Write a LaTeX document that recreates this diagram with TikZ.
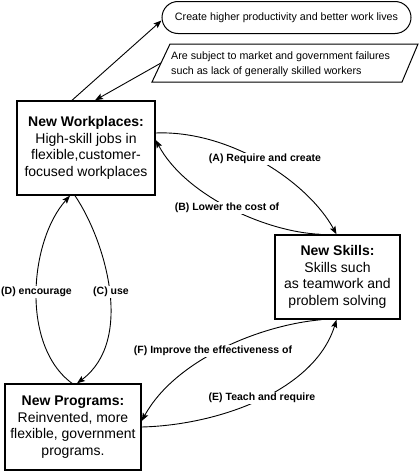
\documentclass[tikz,border=0pt]{standalone}
\usepackage{fontspec}
\setmainfont{Liberation Sans}
\usetikzlibrary{arrows.meta}
\begin{document}
\begin{tikzpicture}[x=1pt,y=-1pt,
  box/.style={draw, line width=1.4pt, align=center, inner sep=0pt,
    font=\fontsize{14}{16.5}\selectfont},
  conn/.style={line width=0.9pt, -{Stealth[length=8pt,width=6pt,inset=1.5pt]}},
  lab/.style={fill=white, inner sep=1pt, font=\bfseries\fontsize{10.5}{12}\selectfont},
  small/.style={font=\fontsize{10.7}{15}\selectfont}
]
\useasboundingbox (0,0) rectangle (419,471);

% nodes
\node[draw, line width=1pt, rounded corners=16pt, minimum width=249pt,
      minimum height=32pt, small] (prod) at (286.5,17.5)
      {Create higher productivity and better work lives};
\draw[line width=1pt] (170,44) -- (418,44) -- (402,82) -- (152,82) -- cycle;
\node[small, align=left, anchor=west, inner sep=0pt] (fail) at (171,64.5)
      {Are subject to market and government failures\\such as lack of generally skilled workers};
\coordinate (failL) at (161,63);

\node[box, minimum width=138pt, minimum height=94pt] (wp) at (86,148)
  {\textbf{New Workplaces:}\\High-skill jobs in\\flexible,customer-\\focused workplaces};
\node[box, minimum width=125pt, minimum height=84pt] (sk) at (337.5,277)
  {\textbf{New Skills:}\\Skills such\\as teamwork and\\problem solving};
\node[box, minimum width=136pt, minimum height=86pt] (pr) at (73,427)
  {\textbf{New Programs:}\\Reinvented, more\\flexible, government\\programs.};

% connectors
\draw[conn] ([xshift=-14pt]wp.north) -- ([yshift=-3pt]prod.west);
\draw[conn] (failL) -- ([xshift=9pt]wp.north);

\draw[conn] ([yshift=15pt]wp.east) .. controls (230,130) and (308,182) .. ([xshift=-1pt]sk.north);
\draw[conn] ([xshift=-17pt]sk.north) .. controls (265,232) and (185,195) .. ([yshift=8pt]wp.east);

\draw[conn] ([xshift=-11pt]wp.south) .. controls (105,240) and (135,340) .. ([xshift=4pt]pr.north);
\draw[conn] ([xshift=-1pt]pr.north) .. controls (20,345) and (30,240) .. ([xshift=-16pt]wp.south);

\draw[conn] (pr.east) .. controls (220,425) and (315,390) .. ([xshift=-1pt]sk.south);
\draw[conn] ([xshift=-16pt]sk.south) .. controls (260,325) and (175,360) .. ([yshift=6pt]pr.east);

% labels
\node[lab] (la) at (265,159) {(A) Require and create};
\node[lab] (lb) at (227,208) {(B) Lower the cost of};
\node[lab] (lc) at (111,292) {(C) use};
\node[lab] (ld) at (36.5,292) {(D) encourage};
\node[lab] (le) at (262,398) {(E) Teach and require};
\node[lab] (lf) at (213,351) {(F) Improve the effectiveness of};
\end{tikzpicture}
\end{document}
